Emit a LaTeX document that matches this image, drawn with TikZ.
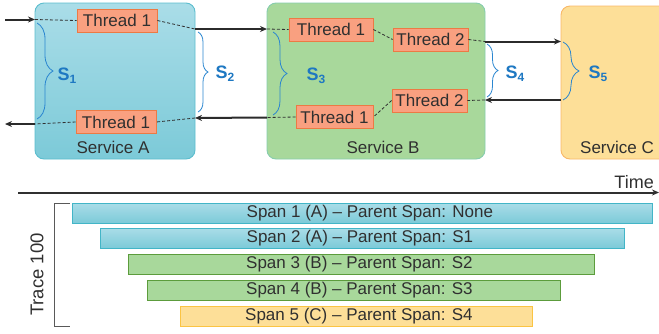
\documentclass[tikz,border=0pt]{standalone}
\usepackage{fontspec}
\setmainfont{Liberation Sans}
\usetikzlibrary{arrows.meta,decorations.pathreplacing}

\definecolor{svcAtop}{HTML}{AADDE8}
\definecolor{svcAbot}{HTML}{7CCAD8}
\definecolor{svcAline}{HTML}{5BBDCE}
\definecolor{svcBfill}{HTML}{A8D89B}
\definecolor{svcBline}{HTML}{86CDAE}
\definecolor{svcCfill}{HTML}{FDDF98}
\definecolor{svcCline}{HTML}{F8B868}
\definecolor{thrfill}{HTML}{F9A080}
\definecolor{thrline}{HTML}{EC7A44}
\definecolor{barBline}{HTML}{42B5C7}
\definecolor{barGline}{HTML}{5C9C3C}
\definecolor{barYline}{HTML}{FBC443}
\definecolor{bracecol}{HTML}{2A86D0}
\definecolor{slabcol}{HTML}{1E78C2}
\definecolor{ink}{HTML}{303030}

\begin{document}
\begin{tikzpicture}[x=1pt,y=-1pt,
  every node/.style={font=\fontsize{17}{20}\selectfont, text=ink, inner sep=0pt},
  svc/.style={rectangle, rounded corners=9pt, line width=0.9pt},
  svcA/.style={svc, top color=svcAtop, bottom color=svcAbot, draw=svcAline},
  svcB/.style={svc, fill=svcBfill, draw=svcBline},
  svcC/.style={svc, fill=svcCfill, draw=svcCline},
  thr/.style={rectangle, fill=thrfill, draw=thrline, line width=0.8pt, minimum height=23pt},
  flow/.style={line width=2pt, draw=ink!90!black, -{Stealth[length=7pt,width=6pt]}},
  trc/.style={line width=0.8pt, draw=ink, dash pattern=on 3pt off 2pt},
  brc/.style={draw=bracecol, line width=0.8pt, decorate},
  slab/.style={font=\fontsize{18}{20}\selectfont\bfseries, text=slabcol},
  barA/.style={rectangle, top color=svcAtop, bottom color=svcAbot, draw=barBline, line width=0.9pt, minimum height=20pt},
  barB/.style={rectangle, fill=svcBfill, draw=barGline, line width=0.9pt, minimum height=20pt},
  barC/.style={rectangle, fill=svcCfill, draw=barYline, line width=0.9pt, minimum height=20pt},
  bartext/.style={anchor=west}
]
\useasboundingbox (0,0) rectangle (659,333);
\clip (0,0) rectangle (659,333);

% ---- services ----
\node[svcA, minimum width=160pt, minimum height=156pt] (svA) at (115,81) {};
\node[svcB, minimum width=218pt, minimum height=156pt] (svB) at (376,81) {};
\node[svcC, minimum width=130pt, minimum height=153pt] (svC) at (626,82.5) {};
\node (labA) at (113,147) {Service A};
\node (labB) at (383,147) {Service B};
\node (labC) at (617,147) {Service C};

% ---- threads ----
\node[thr, minimum width=80pt] (tA1) at (117,20.5) {Thread 1};
\node[thr, minimum width=80pt] (tA2) at (116,122) {Thread 1};
\node[thr, minimum width=84pt] (tB1) at (331,29.5) {Thread 1};
\node[thr, minimum width=75pt] (tB2) at (430.5,39.5) {Thread 2};
\node[thr, minimum width=75pt] (tB3) at (429.5,100.5) {Thread 2};
\node[thr, minimum width=77pt] (tB4) at (334.5,117) {Thread 1};

% ---- connection points ----
\coordinate (src)  at (5,19.5);
\coordinate (inA)  at (35,19.5);
\coordinate (outA) at (195,29);
\coordinate (inB)  at (267,29);
\coordinate (outB) at (485,41.5);
\coordinate (inC)  at (561,41.5);
\coordinate (retC) at (561,100);
\coordinate (retB) at (485,100);
\coordinate (backB) at (267,117.5);
\coordinate (backA) at (195,118);
\coordinate (exA)  at (35,124);
\coordinate (sink) at (5,124);

% request path
\draw[flow] (src) -- (inA);
\draw[trc] (inA) -- (tA1.west);
\draw[trc] (tA1.east) -- (outA);
\draw[flow] (outA) -- (inB);
\draw[trc] (inB) -- (tB1.west);
\draw[trc] (tB1.east) -- (tB2.west);
\draw[trc] (tB2.east) -- (outB);
\draw[flow] (outB) -- (inC);
% response path
\draw[flow] (retC) -- (retB);
\draw[trc] (retB) -- (tB3.east);
\draw[trc] (tB3.west) -- (tB4.east);
\draw[trc] (tB4.west) -- (backB);
\draw[flow] (backB) -- (backA);
\draw[trc] (backA) -- (tA2.east);
\draw[trc] (tA2.west) -- (exA);
\draw[flow] (exA) -- (sink);

% ---- span braces ----
\draw[brc, decoration={brace, amplitude=16pt}] (37,23) -- (37,119);
\draw[brc, decoration={brace, amplitude=10pt}] (198,32) -- (198,112);
\draw[brc, decoration={brace, amplitude=14pt}] (273,32) -- (273,115);
\draw[brc, decoration={brace, amplitude=11pt}] (487,44) -- (487,97);
\draw[brc, decoration={brace, amplitude=16pt}] (563,42) -- (563,100);
\node[slab] (s1) at (67,76) {S\raisebox{-0.3ex}{\fontsize{12}{12}\selectfont 1}};
\node[slab] (s2) at (225,74) {S\raisebox{-0.3ex}{\fontsize{12}{12}\selectfont 2}};
\node[slab] (s3) at (316,76) {S\raisebox{-0.3ex}{\fontsize{12}{12}\selectfont 3}};
\node[slab] (s4) at (515,74) {S\raisebox{-0.3ex}{\fontsize{12}{12}\selectfont 4}};
\node[slab] (s5) at (598,74) {S\raisebox{-0.3ex}{\fontsize{12}{12}\selectfont 5}};

% ---- time axis ----
\coordinate (axL) at (18,192.5);
\coordinate (axR) at (659,192.5);
\draw[line width=2pt, draw=ink, -{Stealth[length=7pt,width=6pt]}] (axL) -- (axR);
\node[anchor=base east, font=\fontsize{18}{20}\selectfont] (time) at (654,188) {Time};

% ---- trace timeline ----
\draw[draw=ink!80, line width=0.8pt] (70,203) -- (54,203) -- (54,326) -- (70,326);
\node[rotate=90, font=\fontsize{18.5}{20}\selectfont] (trace) at (37,274.5) {Trace 100};

\node[barA, minimum width=580pt] (b1) at (362,213) {};
\node[barA, minimum width=524pt] (b2) at (362,238) {};
\node[barB, minimum width=466pt] (b3) at (361,264) {};
\node[barB, minimum width=413pt] (b4) at (353.5,290) {};
\node[barC, minimum width=352pt] (b5) at (356,316) {};
\node[bartext] (t1) at (246.5,213) {Span 1 (A) -- Parent Span: None};
\node[bartext] (t2) at (246.5,238) {Span 2 (A) -- Parent Span: S1};
\node[bartext] (t3) at (246,264) {Span 3 (B) -- Parent Span: S2};
\node[bartext] (t4) at (246,290) {Span 4 (B) -- Parent Span: S3};
\node[bartext] (t5) at (245,316) {Span 5 (C) -- Parent Span: S4};
\end{tikzpicture}
\end{document}
